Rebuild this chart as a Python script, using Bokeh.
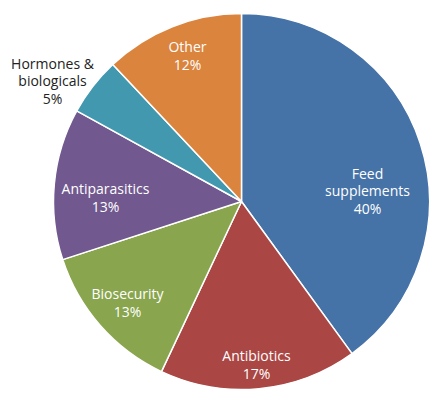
import math
from bokeh.plotting import figure
from bokeh.models import ColumnDataSource, Range1d
from bokeh.core.properties import value
from bokeh.embed import file_html
from bokeh.resources import INLINE

categories = ["Feed supplements", "Antibiotics", "Biosecurity", "Antiparasitics",
              "Hormones & biologicals", "Other"]
shares = [40, 17, 13, 13, 5, 12]
colors = ["#4572A7", "#AA4643", "#89A54E", "#71588F", "#4198AF", "#DB843D"]
label_lines = [["Feed", "supplements", "40%"], ["Antibiotics", "17%"], ["Biosecurity", "13%"],
               ["Antiparasitics", "13%"], ["Hormones &", "biologicals", "5%"], ["Other", "12%"]]
# label anchor positions (pixel coords, style only)
label_pos = [(367, 190), (256, 364), (127, 302), (105, 197), (52, 80), (187, 55)]
label_colors = ["white", "white", "white", "white", "#222222", "white"]

W, H = 429, 394
cx, cy, r = 241, 201, 188

p = figure(width=W, height=H, output_backend="svg", toolbar_location=None,
           x_range=Range1d(0, W), y_range=Range1d(0, H), min_border=0)
p.axis.visible = False
p.grid.visible = False
p.outline_line_color = None
p.background_fill_color = "white"
p.border_fill_color = "white"

total = sum(shares)
starts, ends = [], []
cum = 0.0
for s in shares:
    a0 = math.pi / 2 - 2 * math.pi * cum / total
    cum += s
    a1 = math.pi / 2 - 2 * math.pi * cum / total
    starts.append(a0)
    ends.append(a1)

src = ColumnDataSource(dict(x=[cx] * len(shares), y=[H - cy] * len(shares),
                            start=starts, end=ends, color=colors))
p.wedge(x="x", y="y", radius=r, start_angle="start", end_angle="end",
        direction="clock", fill_color="color", line_color="white", line_width=1.5,
        source=src)

lh = 17.5
tx, ty, tt, tc = [], [], [], []
for lines, (px, py), c in zip(label_lines, label_pos, label_colors):
    n = len(lines)
    for i, t in enumerate(lines):
        yy = py + (i - (n - 1) / 2) * lh
        tx.append(px)
        ty.append(H - yy)
        tt.append(t)
        tc.append(c)
p.text(x=tx, y=ty, text=tt, text_color=tc, text_align="center", text_baseline="middle",
       text_font=value("Open Sans"), text_font_size="14px")

open("out.html", "w").write(file_html(p, INLINE))
